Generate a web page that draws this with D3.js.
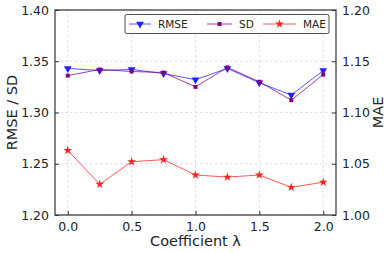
<!DOCTYPE html>
<html>
<head>
<meta charset="utf-8">
<script src="https://cdn.jsdelivr.net/npm/d3@7"></script>
<style>
  body { margin: 0; background: #fff; }
  svg text { font-family: "DejaVu Sans", sans-serif; fill: #222; }
</style>
</head>
<body>
<div id="chart"></div>
<script>
// values
var lambdas = [0, 0.25, 0.5, 0.75, 1.0, 1.25, 1.5, 1.75, 2.0];
var rmse = [1.343, 1.341, 1.342, 1.338, 1.332, 1.343, 1.329, 1.317, 1.341];
var sd = [1.336, 1.342, 1.340, 1.339, 1.325, 1.344, 1.330, 1.312, 1.337];
var mae = [1.063, 1.030, 1.052, 1.054, 1.039, 1.037, 1.039, 1.027, 1.032];
var xTicks = [0, 0.5, 1.0, 1.5, 2.0];
var leftTicks = [1.20, 1.25, 1.30, 1.35, 1.40];
var rightTicks = [1.00, 1.05, 1.10, 1.15, 1.20];

var W = 391, H = 253;
var m = {left: 55, right: 55, top: 10, bottom: 38};

var svg = d3.select("#chart").append("svg")
    .attr("width", W)
    .attr("height", H);

var x = d3.scaleLinear().domain([-0.1, 2.1]).range([m.left, W - m.right]);
var yL = d3.scaleLinear().domain([1.20, 1.40]).range([H - m.bottom, m.top]);
var yR = d3.scaleLinear().domain([1.00, 1.20]).range([H - m.bottom, m.top]);

// grid
svg.append("g").selectAll("line").data(xTicks).join("line")
    .attr("x1", d => x(d)).attr("x2", d => x(d))
    .attr("y1", m.top).attr("y2", H - m.bottom)
    .attr("stroke", "#c8c8c8").attr("stroke-width", 0.6)
    .attr("stroke-dasharray", "2.5,2.5");
svg.append("g").selectAll("line").data(leftTicks).join("line")
    .attr("x1", m.left).attr("x2", W - m.right)
    .attr("y1", d => yL(d)).attr("y2", d => yL(d))
    .attr("stroke", "#c8c8c8").attr("stroke-width", 0.6)
    .attr("stroke-dasharray", "2.5,2.5");

// axes, ticks pointing inward
var axB = svg.append("g").attr("transform", "translate(0," + (H - m.bottom) + ")")
    .call(d3.axisBottom(x).tickValues(xTicks).tickFormat(d3.format(".1f")).tickSizeInner(-4).tickSizeOuter(0).tickPadding(7));
var axL = svg.append("g").attr("transform", "translate(" + m.left + ",0)")
    .call(d3.axisLeft(yL).tickValues(leftTicks).tickFormat(d3.format(".2f")).tickSizeInner(-4).tickSizeOuter(0).tickPadding(6));
var axR = svg.append("g").attr("transform", "translate(" + (W - m.right) + ",0)")
    .call(d3.axisRight(yR).tickValues(rightTicks).tickFormat(d3.format(".2f")).tickSizeInner(-4).tickSizeOuter(0).tickPadding(6));
[axB, axL, axR].forEach(function(a) {
    a.select(".domain").remove();
    a.selectAll(".tick line").attr("stroke", "#333");
    a.selectAll(".tick text").attr("font-size", 12.5).attr("fill", "#222");
});

// frame
svg.append("rect")
    .attr("x", m.left).attr("y", m.top)
    .attr("width", W - m.left - m.right).attr("height", H - m.top - m.bottom)
    .attr("fill", "none").attr("stroke", "#333").attr("stroke-width", 1.2);

// axis labels
svg.append("text").attr("transform", "translate(17," + ((m.top + H - m.bottom) / 2) + ") rotate(-90)")
    .attr("text-anchor", "middle").attr("font-size", 14.5).text("RMSE / SD");
svg.append("text").attr("transform", "translate(383," + ((m.top + H - m.bottom) / 2) + ") rotate(-90)")
    .attr("text-anchor", "middle").attr("font-size", 14.5).text("MAE");
svg.append("text").attr("x", x(1.0)).attr("y", 246)
    .attr("text-anchor", "middle").attr("font-size", 14.5).text("Coefficient λ");

var series = [
    {name: "RMSE", values: rmse, y: yL, color: "#1f1fff", sym: d3.symbolTriangle, rot: 180, size: 26},
    {name: "SD", values: sd, y: yL, color: "#800080", sym: d3.symbolSquare, rot: 0, size: 16},
    {name: "MAE", values: mae, y: yR, color: "#ff2020", sym: d3.symbolStar, rot: 0, size: 24}
];

series.forEach(function(s) {
    var line = d3.line().x((d, i) => x(lambdas[i])).y(d => s.y(d));
    svg.append("path").datum(s.values)
        .attr("d", line).attr("fill", "none")
        .attr("stroke", s.color).attr("stroke-opacity", 0.75).attr("stroke-width", 1);
    svg.append("g").selectAll("path").data(s.values).join("path")
        .attr("d", d3.symbol().type(s.sym).size(s.size))
        .attr("transform", (d, i) => "translate(" + x(lambdas[i]) + "," + s.y(d) + ") rotate(" + s.rot + ")")
        .attr("fill", s.color);
});

// legend
var lg = svg.append("g");
lg.append("rect").attr("x", 125).attr("y", 14.5).attr("width", 204).attr("height", 19)
    .attr("fill", "#fff").attr("stroke", "#222").attr("stroke-width", 0.8).attr("rx", 1.5);
var lx = [129, 207, 263];
var lw = [22, 25, 33];
series.forEach(function(s, i) {
    lg.append("line").attr("x1", lx[i]).attr("x2", lx[i] + lw[i]).attr("y1", 24).attr("y2", 24)
        .attr("stroke", s.color).attr("stroke-opacity", 0.75).attr("stroke-width", 1);
    lg.append("path").attr("d", d3.symbol().type(s.sym).size(s.size)())
        .attr("transform", "translate(" + (lx[i] + lw[i] / 2) + ",24) rotate(" + s.rot + ")")
        .attr("fill", s.color);
    lg.append("text").attr("x", lx[i] + lw[i] + 7).attr("y", 27.8)
        .attr("font-size", 10.5).text(s.name);
});
</script>
</body>
</html>
